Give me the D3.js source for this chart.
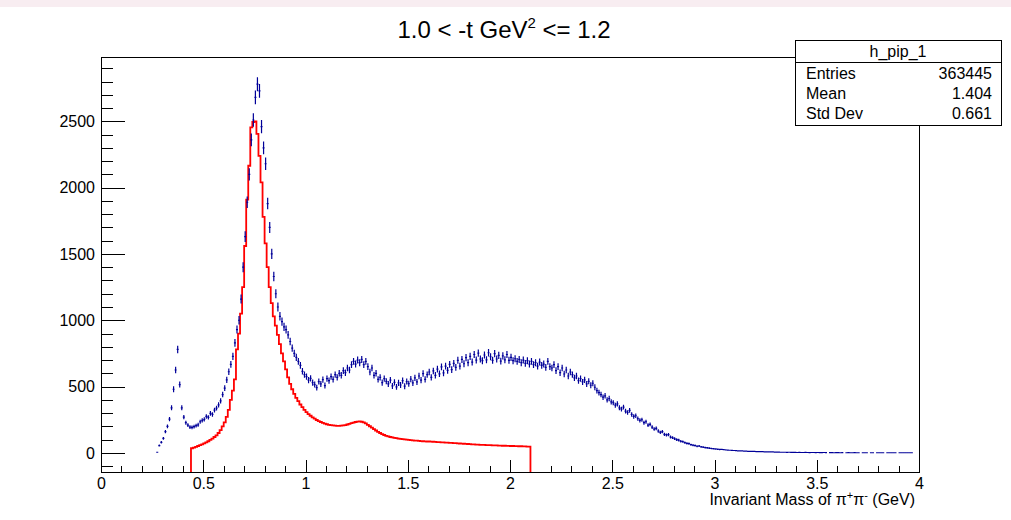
<!DOCTYPE html>
<html>
<head>
<meta charset="utf-8">
<script src="https://cdn.jsdelivr.net/npm/d3@7"></script>
<style>
    body { margin: 0; background: #fff; }
    text { font-family: "Liberation Sans", Arial, Helvetica, sans-serif; fill: #000; }
</style>
</head>
<body>
<div id="chart"></div>
<script>

// histogram binning (0..4 GeV, 400 bins)
var binWidth = 0.01;

// data histogram h_pip_1, counts starting at bin 27 (0.27 GeV)
var dataFirstBin = 27;
var dataCounts = [
    5, 55, 80,
    110, 160, 200, 255, 340, 480, 625, 780, 515, 340,
    270, 228, 210, 195, 192, 198, 205, 212, 235, 245,
    252, 275, 268, 298, 290, 322, 338, 362, 392, 440,
    488, 550, 612, 668, 728, 830, 930, 1000, 1160, 1400,
    1630, 1890, 2100, 2360, 2510, 2680, 2780, 2730, 2460, 2300,
    2180, 1880, 1700, 1500, 1330, 1200, 1100, 1030, 990, 950,
    930, 890, 840, 790, 750, 720, 690, 660, 615, 590,
    575, 548, 562, 530, 515, 492, 538, 520, 552, 508,
    560, 545, 575, 555, 590, 570, 600, 585, 620, 605,
    640, 625, 665, 690, 670, 700, 680, 705, 665, 690,
    650, 610, 640, 585, 600, 555, 570, 530, 560, 540,
    520, 548, 505, 532, 498, 528, 512, 545, 503, 538,
    522, 556, 528, 565, 535, 580, 548, 598, 555, 590,
    610, 570, 618, 585, 632, 596, 648, 603, 655, 622,
    668, 628, 675, 645, 698, 655, 705, 672, 718, 680,
    728, 685, 742, 700, 752, 708, 695, 738, 702, 755,
    725, 698, 748, 708, 736, 692, 732, 702, 742, 698,
    720, 695, 710, 690, 705, 680, 700, 675, 695, 670,
    690, 665, 680, 655, 685, 660, 670, 645, 690, 650,
    640, 665, 620, 650, 605, 640, 595, 625, 580, 610,
    590, 565, 580, 545, 560, 535, 550, 520, 540, 510,
    525, 495, 470, 455, 440, 420, 430, 400, 410, 385,
    378, 360, 370, 340, 330, 345, 315, 305, 320, 290,
    275, 280, 258, 245, 250, 228, 235, 210, 215, 195,
    180, 185, 165, 155, 160, 140, 135, 138, 120, 115,
    108, 100, 96, 88, 85, 78, 72, 70, 62, 58,
    55, 50, 52, 45, 44, 40, 38, 36, 33, 31,
    30, 28, 26, 27, 24, 22, 21, 20, 19, 18,
    17, 16, 15, 15, 14, 13, 12, 12, 11, 11,
    10, 9, 10, 9, 8, 8, 7, 8, 7, 6,
    6, 6, 5, 5, 5, 4, 5, 4, 4, 4,
    3, 4, 3, 3, 4, 3, 2, 3, 3, 2,
    3, 2, 2, 3, 2, 0, 2, 2, 1, 2,
    2, 1, 2, 0, 1, 2, 1, 1, 2, 1,
    1, 0, 1, 1, 1, 0, 1, 1, 0, 1,
    1, 1, 1, 0, 1, 1, 1, 1, 1, 0,
    1, 1, 1, 1, 1, 1, 1
];

// red model histogram, starting at bin 44 (0.44 GeV)
var modelFirstBin = 44;
var modelCounts = [
    35, 40, 46, 52, 58, 65,
    72, 80, 88, 98, 108, 120, 132, 150, 172, 200,
    230, 272, 325, 400, 470, 555, 780, 900, 1050, 1250,
    1560, 1910, 2165, 2455, 2495, 2500, 2405, 2240, 2040, 1780,
    1580, 1400, 1250, 1130, 1030, 960, 890, 820, 750, 690,
    630, 570, 520, 480, 445, 415, 390, 365, 345, 325,
    308, 293, 280, 268, 258, 248, 240, 233, 226, 221,
    216, 212, 209, 207, 205, 204, 204, 205, 207, 210,
    214, 219, 224, 229, 233, 236, 237, 235, 230, 222,
    212, 201, 190, 179, 169, 159, 150, 142, 135, 129,
    124, 120, 117, 114, 111, 108, 106, 104, 102, 100,
    98, 96, 95, 93, 92, 91, 89, 88, 87, 86,
    86, 85, 84, 83, 82, 81, 80, 79, 78, 77,
    76, 75, 74, 73, 72, 71, 70, 69, 68, 67,
    66, 65, 64, 63, 62, 61, 60, 60, 59, 58,
    58, 57, 56, 56, 55, 55, 54, 54, 53, 53,
    52, 52, 51, 51, 50, 50, 49, 49, 48, 48
];

// axis ticks
var xMajor = [0, 0.5, 1, 1.5, 2, 2.5, 3, 3.5, 4];
var xLabels = ["0", "0.5", "1", "1.5", "2", "2.5", "3", "3.5", "4"];
var yMajor = [0, 500, 1000, 1500, 2000, 2500];

// stats box
var statNames = ["Entries", "Mean", "Std Dev"];
var statValues = ["363445", "1.404", "0.661"];


// layout
var W = 1011, H = 520;
var frame = {x0: 101, x1: 919, y0: 57, y1: 472};

var svg = d3.select("#chart").append("svg")
        .attr("width", W).attr("height", H);

// thin pink strip at top of canvas
svg.append("rect").attr("x", 0).attr("y", 0)
        .attr("width", W).attr("height", 7).attr("fill", "#f8edf1");

var xscale = d3.scaleLinear().domain([0, 4]).range([frame.x0, frame.x1]);
var yscale = d3.scaleLinear().domain([-144, 2985]).range([frame.y1, frame.y0]);

// minor ticks
var xMinor = d3.range(0, 41).map(function (i) { return i / 10; })
        .filter(function (v) { return Math.round(v * 10) % 5 !== 0; });
var yMinor = d3.range(-100, 2990, 100)
        .filter(function (v) { return v % 500 !== 0; });

function styleAxis(g) {
    g.select("path.domain").remove();
    g.selectAll(".tick line").attr("stroke", "#000").attr("stroke-width", 1)
            .attr("shape-rendering", "crispEdges");
    g.selectAll(".tick text").attr("font-size", 16)
            .attr("font-family", "Liberation Sans, Arial, sans-serif");
}

// x axis
svg.append("g").attr("transform", "translate(0," + frame.y1 + ")")
        .call(d3.axisBottom(xscale).tickValues(xMinor).tickSize(-6).tickFormat(""))
        .call(styleAxis);
svg.append("g").attr("transform", "translate(0," + frame.y1 + ")")
        .call(d3.axisBottom(xscale).tickValues(xMajor).tickSize(-12).tickPadding(6)
                .tickFormat(function (d, i) { return xLabels[i]; }))
        .call(styleAxis);

// y axis
svg.append("g").attr("transform", "translate(" + frame.x0 + ",0)")
        .call(d3.axisLeft(yscale).tickValues(yMinor).tickSize(-12).tickFormat(""))
        .call(styleAxis);
svg.append("g").attr("transform", "translate(" + frame.x0 + ",0)")
        .call(d3.axisLeft(yscale).tickValues(yMajor).tickSize(-24).tickPadding(6)
                .tickFormat(d3.format("d")))
        .call(styleAxis);

// frame
svg.append("rect").attr("x", frame.x0 + 0.5).attr("y", frame.y0 + 0.5)
        .attr("width", frame.x1 - frame.x0).attr("height", frame.y1 - frame.y0)
        .attr("fill", "none").attr("stroke", "#000").attr("stroke-width", 1);

// red model histogram as a step outline
var mpath = "M" + xscale(modelFirstBin * binWidth) + "," + frame.y1;
modelCounts.forEach(function (v, i) {
    var lo = (modelFirstBin + i) * binWidth;
    mpath += "V" + yscale(v) + "H" + xscale(lo + binWidth);
});
mpath += "V" + frame.y1;
svg.append("path").attr("d", mpath).attr("fill", "none")
        .attr("stroke", "#ff0000").attr("stroke-width", 1.8)
        .attr("stroke-linejoin", "miter");

// data points with error bars
var dpath = "";
dataCounts.forEach(function (v, i) {
    if (v <= 0) return;
    var lo = (dataFirstBin + i) * binWidth;
    var err = Math.sqrt(v);
    var yc = yscale(v);
    dpath += "M" + xscale(lo) + "," + yc + "H" + xscale(lo + binWidth);
    var xc = xscale(lo + binWidth / 2);
    dpath += "M" + xc + "," + yscale(v + err) + "V" + yscale(v - err);
});
svg.append("path").attr("d", dpath).attr("fill", "none")
        .attr("stroke", "#000099").attr("stroke-width", 1.2);

// title
var title = svg.append("text").attr("x", 504).attr("y", 38)
        .attr("text-anchor", "middle").attr("font-size", 24);
title.append("tspan").text("1.0 < -t GeV");
title.append("tspan").text("2").attr("font-size", 15).attr("dy", -10);
title.append("tspan").text(" <= 1.2").attr("dy", 10);

// x axis title
var xt = svg.append("text").attr("x", 915).attr("y", 505)
        .attr("text-anchor", "end").attr("font-size", 16);
xt.append("tspan").text("Invariant Mass of \u03c0");
xt.append("tspan").text("+").attr("font-size", 11).attr("dy", -6);
xt.append("tspan").text("\u03c0").attr("dy", 6);
xt.append("tspan").text("-").attr("font-size", 11).attr("dy", -6);
xt.append("tspan").text(" (GeV)").attr("dy", 6);

// stats box
var sb = {x: 795, y: 40, w: 206, h: 85};
svg.append("rect").attr("x", sb.x + 0.5).attr("y", sb.y + 0.5)
        .attr("width", sb.w).attr("height", sb.h)
        .attr("fill", "#fff").attr("stroke", "#000").attr("stroke-width", 1);
svg.append("line").attr("x1", sb.x).attr("x2", sb.x + sb.w)
        .attr("y1", sb.y + 22.5).attr("y2", sb.y + 22.5)
        .attr("stroke", "#000").attr("stroke-width", 1);
svg.append("text").text("h_pip_1").attr("x", sb.x + sb.w / 2).attr("y", sb.y + 17)
        .attr("text-anchor", "middle").attr("font-size", 16);
statNames.forEach(function (s, i) {
    var yy = sb.y + 39 + i * 20;
    svg.append("text").text(s).attr("x", sb.x + 11).attr("y", yy)
            .attr("font-size", 16);
    svg.append("text").text(statValues[i]).attr("x", sb.x + sb.w - 9).attr("y", yy)
            .attr("text-anchor", "end").attr("font-size", 16);
});

</script>
</body>
</html>
